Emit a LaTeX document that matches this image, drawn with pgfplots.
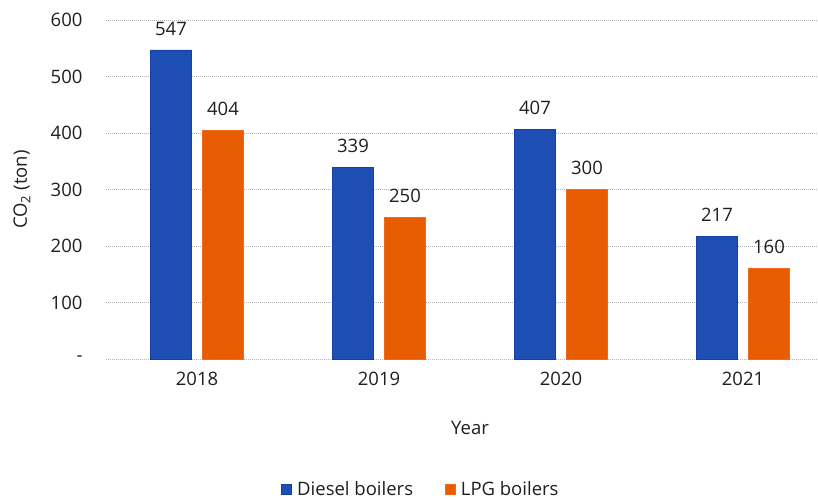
\documentclass[border=0pt]{standalone}
\usepackage{pgfplots}
\pgfplotsset{compat=1.18}
\usepackage{fontspec}
\setmainfont{Open Sans}
\definecolor{dblue}{HTML}{1C4EB3}
\definecolor{dblueE}{HTML}{1440A8}
\definecolor{lorange}{HTML}{E85D02}
\definecolor{lorangeE}{HTML}{F06A1A}
\definecolor{gridc}{HTML}{B5B5B5}
\definecolor{txt}{HTML}{1F1F1F}
\begin{document}
\begin{tikzpicture}
\path[use as bounding box] (-106pt,-140pt) rectangle (712pt,359pt);
\begin{axis}[
  at={(0pt,0pt)}, anchor=south west,
  scale only axis, width=712pt, height=339pt,
  ybar=11pt, bar width=41pt,
  xmin=-0.5, xmax=3.412, ymin=0, ymax=600,
  enlargelimits=false,
  axis line style={draw=none},
  ymajorgrids, grid style={gridc, line width=1pt, densely dotted},
  ytick={0,100,200,300,400,500,600},
  yticklabels={-,100,200,300,400,500,600},
  xtick={0,1,2,3}, xticklabels={2018,2019,2020,2021},
  major tick length=0pt,
  /pgf/number format/assume math mode=true,
  ticklabel style={font=\fontsize{18.5}{21}\selectfont, text=txt},
  yticklabel style={xshift=-20pt},
  xticklabel style={yshift=-10pt},
  xlabel={Year},
  xlabel style={at={(axis cs:1.5,0)}, anchor=center, yshift=-69pt, font=\fontsize{18.5}{21}\selectfont, text=txt},
  ylabel={CO\textsubscript{2} (ton)},
  ylabel style={at={(axis description cs:-0.118,0.5)}, anchor=center, font=\fontsize{18.5}{21}\selectfont, text=txt},
  nodes near coords,
  every node near coord/.append style={font=\fontsize{18.5}{21}\selectfont, text=txt, yshift=11pt},
  legend columns=2,
  legend style={at={(0.4424,-0.3835)}, anchor=center, draw=none, fill=none,
    font=\fontsize{18.5}{21}\selectfont, text=txt,
    /tikz/every odd column/.append style={column sep=3pt},
    /tikz/every even column/.append style={column sep=30pt}},
  legend image code/.code={\fill[#1] (0pt,-5pt) rectangle (10pt,5pt);},
]
\addplot[fill=dblue, draw=dblueE, line width=0.8pt] coordinates {(0,547) (1,339) (2,407) (3,217)};
\addplot[fill=lorange, draw=lorangeE, line width=0.8pt] coordinates {(0,404) (1,250) (2,300) (3,160)};
\legend{Diesel boilers, LPG boilers}
\end{axis}
\end{tikzpicture}
\end{document}
